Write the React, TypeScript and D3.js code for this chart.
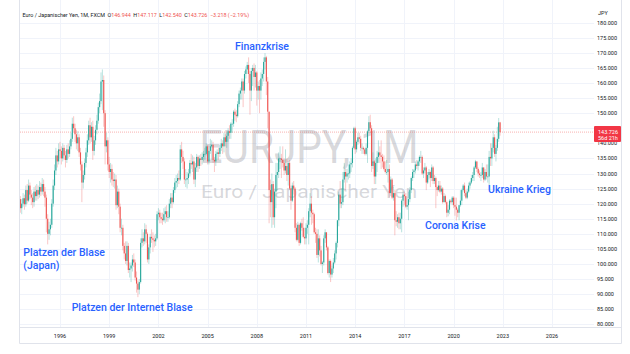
import React from "react";
import * as d3 from "d3";

// monthly candles of EUR/JPY, first candle Jul 1993, open = previous close
const firstYear = 1993.5;
const firstOpen = 120.0;

const closes = [
  121.5, 118.5, 120.0, 121.8, 119.8, 124.5, // 1993 (Jul-Dec)
  121.0, 126.0, 123.0, 122.0, 120.5, 124.0, 122.5, 124.5, 123.0, 125.5, 124.0, 126.5, // 1994
  124.0, 122.0, 115.0, 110.0, 111.5, 113.0, 120.0, 126.0, 131.0, 136.0, 134.0, 138.0, // 1995
  137.5, 135.0, 138.5, 136.0, 134.5, 138.0, 136.5, 139.0, 141.5, 146.5, 145.0, 143.0, // 1996
  140.0, 142.0, 137.0, 133.0, 127.0, 129.5, 133.5, 137.0, 141.0, 146.0, 142.0, 145.5, // 1997
  137.5, 141.0, 144.5, 147.5, 152.0, 154.0, 160.5, 161.0, 150.0, 139.0, 141.0, 133.0, // 1998
  130.5, 131.5, 128.0, 127.5, 128.0, 119.5, 124.0, 119.0, 112.0, 112.0, 106.0, 103.5, // 1999
  101.0, 106.0, 98.0, 98.5, 99.5, 101.5, 100.5, 95.5, 93.5, 91.5, 94.0, 107.0, // 2000
  108.5, 107.5, 111.5, 110.0, 101.5, 105.5, 109.0, 108.5, 108.0, 107.5, 108.5, 116.5, // 2001
  117.0, 115.5, 115.0, 114.5, 116.5, 117.5, 115.5, 115.5, 120.0, 122.0, 120.5, 124.5, // 2002
  127.0, 127.5, 128.5, 128.0, 138.0, 135.5, 134.0, 128.0, 128.0, 128.5, 130.0, 133.5, // 2003
  133.0, 134.0, 128.0, 132.0, 135.5, 132.5, 135.0, 134.5, 135.5, 136.5, 136.5, 139.0, // 2004
  134.0, 137.5, 139.0, 139.5, 134.5, 134.0, 136.5, 137.0, 136.5, 138.5, 140.0, 139.0, // 2005
  142.0, 140.5, 142.5, 144.0, 143.5, 146.5, 146.5, 150.5, 149.5, 149.0, 153.0, 156.5, // 2006
  157.5, 160.5, 157.5, 163.0, 164.5, 166.0, 163.0, 157.5, 164.0, 165.0, 162.0, 163.5, // 2007
  157.5, 159.0, 157.5, 161.5, 163.0, 167.0, 168.5, 160.5, 150.5, 124.5, 120.5, 126.5, // 2008
  115.5, 124.0, 129.5, 130.5, 135.0, 135.0, 134.5, 133.5, 131.0, 132.5, 129.5, 133.5, // 2009
  125.0, 121.0, 126.0, 125.0, 112.0, 108.0, 113.0, 107.0, 113.5, 112.0, 109.0, 108.5, // 2010
  112.0, 113.0, 117.5, 120.0, 117.0, 116.5, 110.5, 110.0, 103.0, 108.5, 104.5, 100.0, // 2011
  100.5, 108.5, 110.5, 105.5, 97.0, 101.0, 96.5, 98.5, 100.5, 103.5, 107.0, 114.5, // 2012
  123.0, 120.0, 120.5, 128.0, 130.5, 129.0, 130.0, 130.0, 133.0, 133.5, 138.5, 145.0, // 2013
  138.0, 140.5, 142.0, 141.5, 138.5, 138.5, 138.0, 136.5, 138.5, 144.0, 147.0, 145.0, // 2014
  132.5, 134.0, 129.0, 133.5, 135.5, 137.0, 136.0, 135.5, 134.0, 131.5, 130.5, 130.5, // 2015
  131.5, 123.5, 128.0, 122.0, 123.5, 114.5, 114.0, 115.5, 113.5, 115.0, 121.0, 123.0, // 2016
  122.5, 119.0, 119.5, 121.5, 124.5, 128.5, 130.5, 131.0, 133.0, 132.5, 134.0, 135.5, // 2017
  135.5, 130.0, 131.0, 132.0, 127.0, 129.5, 130.5, 128.5, 132.0, 127.5, 128.5, 125.5, // 2018
  124.5, 126.0, 124.0, 125.0, 120.5, 122.5, 120.5, 117.0, 118.0, 121.0, 120.5, 122.0, // 2019
  119.5, 119.0, 118.0, 117.0, 119.5, 121.0, 124.5, 126.0, 123.5, 122.0, 124.0, 126.0, // 2020
  127.0, 128.5, 129.5, 132.0, 134.0, 131.5, 130.0, 129.5, 129.5, 132.0, 128.0, 130.5, // 2021
  129.0, 129.0, 135.5, 135.0, 138.5, 142.0, 136.5, 138.5, 141.5, 146.944, 143.726, // 2022
];

const highs = [
  123.0, 122.5, 121.5, 123.5, 123.0, 126.0,
  126.5, 128.0, 127.0, 124.5, 123.5, 125.5, 126.0, 126.5, 126.0, 127.5, 127.0, 128.5,
  128.0, 125.5, 123.0, 116.5, 114.0, 115.0, 121.5, 128.0, 133.0, 138.5, 137.5, 140.0,
  140.5, 139.0, 140.0, 139.5, 137.5, 139.5, 140.0, 141.0, 143.5, 148.5, 149.0, 146.5,
  144.5, 144.0, 143.0, 138.5, 134.0, 131.0, 135.0, 138.5, 143.0, 147.5, 148.5, 147.0,
  147.5, 142.5, 146.0, 149.5, 153.5, 156.5, 163.5, 164.5, 162.5, 151.0, 143.5, 142.0,
  135.5, 133.5, 133.0, 130.5, 130.0, 129.5, 126.0, 125.0, 120.0, 115.0, 113.0, 107.0,
  107.5, 107.5, 107.0, 100.5, 100.5, 103.0, 103.5, 101.5, 97.5, 94.5, 95.0, 108.5,
  111.5, 110.5, 113.5, 113.0, 110.5, 106.5, 110.0, 111.5, 110.5, 109.5, 110.0, 117.5,
  118.5, 118.0, 117.0, 117.0, 118.5, 119.0, 119.5, 117.5, 121.5, 123.5, 123.5, 125.5,
  128.5, 129.5, 130.0, 131.0, 139.5, 140.5, 137.5, 135.0, 131.5, 130.5, 131.5, 134.5,
  136.5, 136.0, 135.5, 133.5, 136.5, 136.0, 136.0, 136.5, 137.0, 137.5, 138.5, 140.0,
  139.5, 138.5, 141.5, 141.0, 140.5, 135.5, 137.5, 138.0, 138.5, 139.5, 141.5, 141.0,
  143.5, 143.0, 143.5, 145.0, 146.0, 147.0, 148.0, 151.0, 151.5, 151.0, 154.0, 157.5,
  158.5, 161.5, 161.5, 164.0, 165.5, 167.0, 168.5, 164.0, 165.0, 166.0, 166.5, 166.0,
  164.0, 160.5, 161.0, 163.5, 164.5, 168.5, 169.9, 169.0, 162.0, 150.5, 128.0, 130.0,
  127.5, 125.0, 133.5, 133.5, 137.0, 139.0, 136.5, 139.0, 135.0, 138.0, 135.0, 134.0,
  134.5, 126.0, 127.0, 127.5, 125.5, 113.5, 114.0, 113.5, 114.0, 115.0, 115.5, 112.0,
  113.5, 114.5, 118.5, 123.5, 122.5, 118.0, 117.0, 112.0, 111.5, 111.5, 109.5, 106.0,
  101.0, 109.5, 111.5, 110.5, 106.0, 101.5, 101.5, 99.5, 102.0, 104.5, 107.5, 114.5,
  124.0, 127.5, 125.0, 130.5, 133.5, 131.5, 131.5, 133.0, 134.0, 135.0, 139.0, 145.5,
  145.5, 141.0, 143.5, 143.5, 142.5, 140.0, 139.0, 138.5, 140.0, 144.5, 149.0, 149.5,
  146.0, 137.0, 134.5, 135.0, 137.5, 141.0, 139.0, 141.0, 136.5, 136.0, 134.0, 134.5,
  133.5, 133.0, 129.0, 128.5, 125.5, 124.5, 117.5, 116.5, 117.0, 117.0, 121.5, 124.0,
  124.0, 123.5, 122.0, 124.0, 125.5, 129.0, 131.5, 131.5, 134.0, 134.5, 134.5, 136.0,
  137.5, 136.0, 132.0, 133.5, 132.5, 130.5, 131.5, 131.0, 133.0, 132.5, 129.5, 129.0,
  126.0, 127.5, 127.5, 126.0, 125.5, 123.5, 123.0, 121.0, 119.5, 121.5, 121.5, 122.5,
  122.5, 122.0, 122.0, 118.5, 119.5, 124.5, 125.0, 126.5, 127.0, 124.5, 125.0, 127.0,
  127.5, 129.5, 130.5, 132.5, 134.5, 134.0, 132.0, 131.0, 130.5, 133.5, 132.0, 131.5,
  133.0, 133.0, 137.5, 140.0, 140.0, 144.2, 143.0, 139.5, 145.5, 148.4, 147.117,
];

const lows = [
  118.5, 117.0, 116.5, 119.0, 118.0, 119.0,
  120.0, 120.5, 121.5, 119.5, 118.5, 119.0, 121.0, 121.0, 121.5, 122.0, 122.5, 123.0,
  122.5, 119.0, 110.5, 106.5, 108.0, 109.5, 112.0, 119.0, 124.5, 129.5, 132.0, 133.0,
  135.0, 133.0, 134.0, 134.5, 132.0, 133.5, 135.0, 135.5, 138.0, 140.5, 143.5, 140.5,
  138.0, 137.5, 135.5, 131.0, 120.5, 125.0, 128.0, 132.0, 135.5, 139.5, 140.0, 140.5,
  134.5, 136.0, 139.5, 143.0, 146.5, 150.0, 153.0, 151.0, 145.5, 133.0, 137.0, 131.0,
  128.5, 127.0, 126.0, 125.5, 125.0, 118.0, 118.5, 116.5, 110.5, 109.5, 104.5, 101.5,
  100.0, 99.5, 97.0, 95.5, 94.0, 97.5, 99.0, 94.5, 90.5, 89.0, 90.0, 93.5,
  105.5, 106.0, 106.5, 107.0, 100.5, 100.0, 103.5, 107.0, 104.0, 105.5, 106.0, 108.0,
  114.5, 113.5, 113.5, 113.0, 114.0, 113.5, 114.0, 114.0, 115.0, 118.5, 118.5, 120.0,
  123.5, 125.0, 125.5, 126.5, 127.5, 133.5, 131.5, 126.5, 125.5, 125.0, 126.5, 129.0,
  131.5, 130.5, 126.5, 125.5, 130.5, 130.5, 131.5, 132.5, 133.0, 134.0, 134.5, 136.0,
  133.0, 133.0, 136.5, 134.5, 133.5, 130.5, 132.5, 134.5, 134.5, 135.5, 137.5, 136.5,
  137.0, 139.0, 138.5, 140.5, 141.5, 141.5, 143.5, 145.5, 147.5, 147.0, 148.5, 152.0,
  154.5, 154.5, 152.0, 156.5, 161.5, 163.0, 160.0, 149.5, 154.0, 159.0, 157.5, 158.5,
  152.5, 154.5, 150.0, 154.5, 159.0, 160.5, 164.5, 156.0, 145.0, 113.5, 115.5, 112.0,
  113.0, 112.0, 118.5, 124.5, 128.5, 131.5, 128.5, 132.0, 129.5, 130.0, 127.5, 126.0,
  124.5, 118.0, 120.5, 123.0, 110.5, 107.5, 107.5, 106.0, 106.5, 111.0, 108.5, 106.5,
  106.5, 110.0, 106.5, 115.5, 113.0, 113.5, 110.0, 107.0, 102.0, 100.5, 102.5, 99.5,
  97.0, 99.5, 107.0, 104.5, 96.5, 95.5, 94.0, 95.5, 97.0, 100.0, 101.5, 105.5,
  112.5, 118.5, 118.5, 119.5, 127.0, 124.5, 127.0, 128.0, 128.5, 130.5, 132.0, 138.0,
  136.5, 137.0, 139.5, 140.0, 137.5, 136.5, 136.5, 136.0, 136.0, 133.5, 143.5, 143.5,
  130.5, 131.5, 126.5, 126.5, 130.5, 133.5, 133.5, 131.5, 132.0, 131.0, 130.0, 129.5,
  127.0, 122.0, 122.5, 121.5, 121.0, 109.5, 112.5, 112.0, 111.5, 111.5, 110.5, 119.0,
  119.5, 118.5, 118.0, 114.5, 120.5, 123.5, 127.5, 128.5, 130.0, 131.5, 131.0, 132.5,
  133.5, 129.5, 128.5, 130.0, 124.5, 126.5, 128.0, 125.5, 127.5, 126.5, 126.5, 118.5,
  122.5, 124.0, 123.5, 123.0, 120.0, 120.5, 120.0, 115.5, 115.8, 116.5, 120.0, 119.5,
  118.5, 116.0, 114.4, 115.5, 114.5, 119.0, 119.5, 124.0, 122.5, 121.5, 121.5, 123.5,
  125.0, 126.5, 127.5, 127.5, 131.5, 130.5, 129.0, 128.5, 127.5, 128.5, 127.0, 127.5,
  128.0, 127.0, 124.5, 132.5, 132.5, 137.0, 135.5, 134.0, 137.5, 140.5, 142.54,
];

const yearTicks = [1996, 1999, 2002, 2005, 2008, 2011, 2014, 2017, 2020, 2023, 2026];
const priceTicks = [80, 85, 90, 95, 100, 105, 110, 115, 120, 125, 130, 135, 140, 145, 150, 155, 160, 165, 170, 175, 180];

const lastPrice = 143.726;
const countdown = "56d 21h";

const legendParts = [
  { label: "O", value: "146.944" },
  { label: "H", value: "147.117" },
  { label: "L", value: "142.540" },
  { label: "C", value: "143.726" },
];
const legendChange = "\u22123.218 (\u22122.19%)";

// annotations: text, decimal year of left edge, price of baseline
const notes = [
  { text: "Finanzkrise", year: 2006.67, price: 170.9 },
  { text: "Platzen der Blase", year: 1993.76, price: 102.6 },
  { text: "(Japan)", year: 1993.76, price: 98.2 },
  { text: "Platzen der Internet Blase", year: 1996.71, price: 84.4 },
  { text: "Corona Krise", year: 2018.26, price: 111.5 },
  { text: "Ukraine Krieg", year: 2022.1, price: 123.5 },
];

const W = 630;
const H = 354;
const left = 20;
const plotRight = 594;
const axisRight = 622;
const plotBottom = 327;
const bottom = 343;

const up = "#26a69a";
const down = "#ef5350";
const gridColor = "#f0f3fa";
const borderColor = "#e0e3eb";
const textColor = "#131722";
const noteColor = "#2962ff";
const font = "Roboto, 'Liberation Sans', sans-serif";

const App = () => {
  const x = d3.scaleLinear().domain([1996, 2026]).range([60, 552]);
  const y = d3.scaleLinear().domain([80, 180]).range([324.3, 22.7]);

  const candles = closes.map((c, i) => {
    const o = i === 0 ? firstOpen : closes[i - 1];
    return { t: firstYear + i / 12, o, h: highs[i], l: lows[i], c };
  });

  const priceY = y(lastPrice);

  return (
    <svg
      width={W}
      height={H}
      viewBox={`0 0 ${W} ${H}`}
      style={{ position: "fixed", left: 0, top: 0, background: "#fff" }}
      fontFamily={font}
    >
      <defs>
        <clipPath id="plot">
          <rect x={left} y={0} width={plotRight - left} height={plotBottom} />
        </clipPath>
      </defs>

      {/* grid */}
      <g stroke={gridColor} strokeWidth={1}>
        {priceTicks.map((p) => (
          <line key={p} x1={left} x2={plotRight} y1={Math.round(y(p)) + 0.5} y2={Math.round(y(p)) + 0.5} />
        ))}
        {yearTicks.map((yr) => (
          <line key={yr} x1={Math.round(x(yr)) + 0.5} x2={Math.round(x(yr)) + 0.5} y1={0} y2={plotBottom} />
        ))}
      </g>

      {/* watermark */}
      <g fill="#787b86" fillOpacity={0.3} textAnchor="middle">
        <text x={(left + plotRight) / 2 + 2} y={163} fontSize={46} textLength={219} lengthAdjust="spacingAndGlyphs">
          EURJPY, 1M
        </text>
        <text x={(left + plotRight) / 2 + 2} y={198} fontSize={19} textLength={216} lengthAdjust="spacingAndGlyphs">
          Euro / Japanischer Yen
        </text>
      </g>

      {/* last price line */}
      <line
        x1={left}
        x2={plotRight}
        y1={priceY}
        y2={priceY}
        stroke={down}
        strokeOpacity={0.45}
        strokeDasharray="1 1"
      />

      {/* candles */}
      <g clipPath="url(#plot)">
        {candles.map((d, i) => {
          const cx = x(d.t);
          const col = d.c >= d.o ? up : down;
          const top = y(Math.max(d.o, d.c));
          const bh = Math.max(0.7, Math.abs(y(d.o) - y(d.c)));
          return (
            <g key={i}>
              <line x1={cx} x2={cx} y1={y(d.h)} y2={y(d.l)} stroke={col} strokeOpacity={0.55} strokeWidth={0.6} />
              <rect x={cx - 0.55} y={top} width={1.1} height={bh} fill={col} />
            </g>
          );
        })}
      </g>

      {/* annotations */}
      <g fill={noteColor} fontSize={10.5} fontWeight={500}>
        {notes.map((n) => (
          <text key={n.text} x={x(n.year)} y={y(n.price)}>
            {n.text}
          </text>
        ))}
      </g>

      {/* legend */}
      <text x={22.5} y={17} fontSize={5.4} fill={textColor}>
        <tspan>Euro / Japanischer Yen, 1M, FXCM</tspan>
        {legendParts.map((p) => (
          <React.Fragment key={p.label}>
            <tspan dx={2.5}>{p.label}</tspan>
            <tspan fill={down}>{p.value}</tspan>
          </React.Fragment>
        ))}
        <tspan dx={2.5} fill={down}>{legendChange}</tspan>
      </text>

      {/* price axis (the last-price badge hides the label under it) */}
      <g fontSize={5.5} fill={textColor}>
        <text x={598} y={14.5}>JPY</text>
        {priceTicks
          .filter((p) => Math.abs(y(p) - priceY) > 9)
          .map((p) => (
            <text key={p} x={597} y={y(p) + 2}>
              {d3.format(".3f")(p)}
            </text>
          ))}
      </g>
      <rect x={594} y={priceY - 6} width={27} height={16} fill="#f23645" rx={1} />
      <g fontSize={5.5} fill="#fff">
        <text x={598} y={priceY + 1.5}>{d3.format(".3f")(lastPrice)}</text>
        <text x={598} y={priceY + 8}>{countdown}</text>
      </g>

      {/* time axis */}
      <g fontSize={5.5} fill={textColor} textAnchor="middle">
        {yearTicks.map((yr) => (
          <text key={yr} x={x(yr)} y={338}>
            {yr}
          </text>
        ))}
      </g>

      {/* borders */}
      <g stroke={borderColor} strokeWidth={1} fill="none">
        <line x1={left - 0.5} x2={axisRight - 0.5} y1={plotBottom + 0.5} y2={plotBottom + 0.5} />
        <line x1={left - 0.5} x2={axisRight - 0.5} y1={bottom + 0.5} y2={bottom + 0.5} />
        <line x1={left - 0.5} x2={left - 0.5} y1={0} y2={bottom + 0.5} />
        <line x1={axisRight - 0.5} x2={axisRight - 0.5} y1={0} y2={bottom + 0.5} />
      </g>
    </svg>
  );
};

export default App;
